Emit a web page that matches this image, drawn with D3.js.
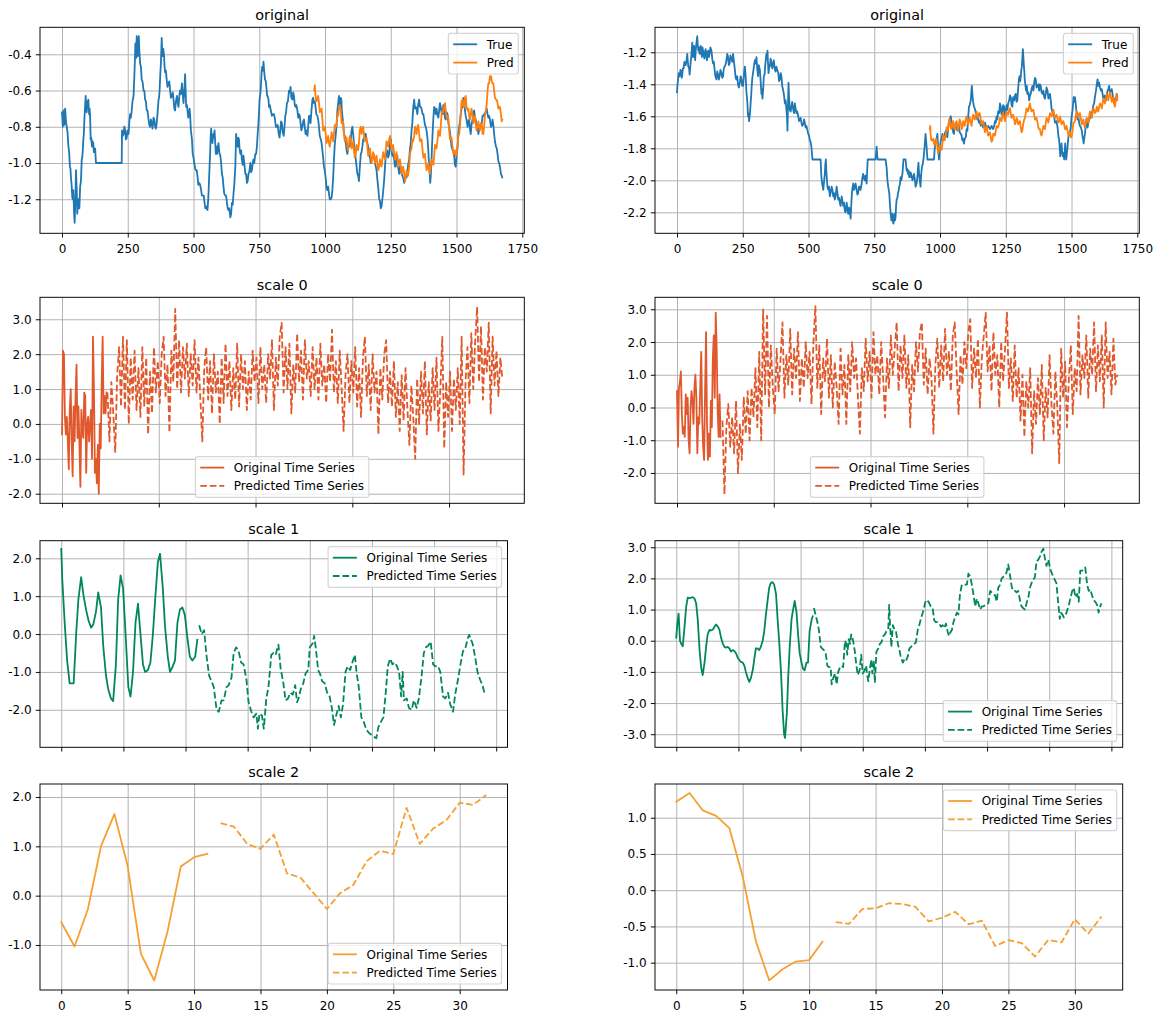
<!DOCTYPE html>
<html>
<head>
<meta charset="utf-8">
<script src="https://cdn.jsdelivr.net/npm/d3@7"></script>
<style>
  body { margin: 0; background: #fff; }
  svg text { font-family: "DejaVu Sans", "Liberation Sans", sans-serif; }
</style>
</head>
<body>
<svg id="fig" width="1158" height="1015"></svg>
<script>
// ---------------- data ----------------
// original series, left column: [sample index, value]
const origLeftTrue = [[0,-0.72],[3,-0.80],[6,-0.71],[9,-0.79],[12,-0.70],[15,-0.77],[18,-0.80],[21,-0.83],[24,-0.90],[27,-0.94],[30,-1.02],[32,-1.03],[34,-1.08],[37,-1.13],[39,-1.19],[41,-1.20],[43,-1.15],[46,-1.28],[48,-1.33],[51,-1.20],[53,-1.04],[56,-1.15],[58,-1.28],[61,-1.22],[63,-1.20],[66,-1.25],[69,-1.13],[72,-1.10],[75,-0.98],[77,-0.97],[79,-0.93],[81,-0.87],[83,-0.84],[85,-0.76],[88,-0.68],[90,-0.63],[92,-0.70],[94,-0.72],[96,-0.66],[98,-0.70],[100,-0.65],[103,-0.73],[105,-0.70],[107,-0.75],[109,-0.87],[111,-0.86],[114,-0.91],[116,-0.88],[119,-0.89],[121,-0.94],[123,-0.93],[126,-0.92],[129,-1.00],[227,-1.00],[228,-0.82],[231,-0.85],[234,-0.84],[237,-0.80],[240,-0.82],[243,-0.87],[246,-0.86],[249,-0.82],[253,-0.84],[256,-0.77],[259,-0.73],[262,-0.75],[265,-0.71],[268,-0.66],[272,-0.63],[275,-0.52],[277,-0.44],[279,-0.34],[282,-0.42],[284,-0.30],[286,-0.37],[288,-0.41],[290,-0.33],[292,-0.30],[294,-0.38],[297,-0.45],[300,-0.47],[303,-0.54],[306,-0.55],[310,-0.60],[313,-0.60],[316,-0.65],[319,-0.66],[322,-0.71],[325,-0.71],[329,-0.76],[332,-0.79],[335,-0.80],[338,-0.76],[341,-0.78],[344,-0.81],[348,-0.75],[351,-0.76],[354,-0.80],[357,-0.81],[360,-0.78],[363,-0.73],[367,-0.65],[369,-0.64],[371,-0.60],[374,-0.50],[376,-0.45],[379,-0.31],[381,-0.38],[383,-0.41],[385,-0.37],[388,-0.41],[390,-0.47],[392,-0.50],[395,-0.49],[398,-0.54],[401,-0.58],[405,-0.56],[408,-0.55],[411,-0.60],[414,-0.64],[418,-0.63],[421,-0.61],[424,-0.65],[427,-0.70],[430,-0.71],[433,-0.66],[437,-0.63],[440,-0.67],[443,-0.69],[446,-0.63],[449,-0.60],[452,-0.62],[456,-0.56],[459,-0.62],[462,-0.67],[465,-0.60],[468,-0.51],[470,-0.60],[472,-0.69],[475,-0.68],[477,-0.71],[480,-0.75],[483,-0.74],[485,-0.70],[487,-0.73],[490,-0.82],[494,-0.87],[497,-0.95],[500,-0.97],[503,-1.00],[506,-1.03],[509,-1.04],[512,-1.04],[515,-1.07],[518,-1.12],[522,-1.11],[525,-1.12],[529,-1.15],[532,-1.18],[536,-1.18],[539,-1.18],[542,-1.22],[545,-1.25],[548,-1.25],[550,-1.24],[553,-1.26],[556,-1.20],[558,-1.13],[561,-1.02],[563,-0.95],[565,-0.86],[567,-0.81],[570,-0.87],[572,-0.89],[574,-0.85],[576,-0.84],[578,-0.86],[580,-0.82],[583,-0.90],[585,-0.95],[588,-0.91],[590,-0.95],[592,-0.92],[595,-0.89],[598,-0.94],[602,-0.96],[605,-1.00],[608,-1.06],[611,-1.08],[614,-1.13],[617,-1.17],[621,-1.18],[624,-1.18],[627,-1.22],[630,-1.25],[633,-1.26],[636,-1.25],[640,-1.30],[643,-1.28],[646,-1.22],[649,-1.23],[652,-1.17],[655,-1.12],[659,-1.02],[662,-0.84],[665,-0.90],[668,-0.91],[670,-0.86],[673,-0.87],[675,-0.92],[678,-0.95],[681,-0.93],[684,-0.98],[687,-1.01],[690,-0.96],[693,-1.00],[697,-1.06],[700,-1.06],[703,-1.11],[706,-1.10],[709,-1.06],[712,-1.05],[716,-1.00],[719,-1.05],[722,-1.04],[725,-1.00],[728,-0.98],[731,-1.00],[735,-0.95],[738,-0.95],[741,-0.91],[743,-0.86],[746,-0.80],[749,-0.72],[751,-0.65],[754,-0.62],[756,-0.58],[759,-0.50],[761,-0.47],[764,-0.49],[766,-0.44],[769,-0.50],[772,-0.54],[775,-0.55],[777,-0.58],[780,-0.63],[782,-0.63],[785,-0.65],[787,-0.69],[790,-0.68],[794,-0.71],[798,-0.74],[802,-0.73],[806,-0.73],[810,-0.76],[813,-0.80],[817,-0.80],[820,-0.79],[824,-0.84],[827,-0.86],[830,-0.82],[833,-0.77],[836,-0.78],[839,-0.83],[843,-0.85],[846,-0.80],[849,-0.74],[852,-0.72],[855,-0.67],[859,-0.66],[863,-0.60],[866,-0.61],[869,-0.58],[872,-0.64],[876,-0.65],[879,-0.61],[882,-0.63],[885,-0.68],[888,-0.69],[891,-0.68],[895,-0.71],[898,-0.75],[901,-0.73],[904,-0.74],[907,-0.78],[910,-0.82],[914,-0.80],[917,-0.77],[920,-0.76],[923,-0.80],[926,-0.84],[929,-0.82],[933,-0.85],[936,-0.80],[939,-0.74],[942,-0.74],[945,-0.78],[948,-0.72],[952,-0.65],[955,-0.64],[958,-0.67],[961,-0.66],[964,-0.69],[967,-0.73],[971,-0.74],[974,-0.76],[977,-0.80],[980,-0.85],[984,-0.87],[987,-0.89],[990,-0.93],[993,-0.97],[996,-1.02],[999,-1.04],[1003,-1.09],[1006,-1.14],[1009,-1.15],[1012,-1.13],[1015,-1.17],[1018,-1.20],[1022,-1.20],[1025,-1.19],[1028,-1.15],[1031,-1.08],[1034,-0.98],[1037,-0.90],[1041,-0.84],[1044,-0.79],[1047,-0.71],[1050,-0.67],[1053,-0.63],[1055,-0.67],[1057,-0.69],[1060,-0.64],[1062,-0.65],[1064,-0.71],[1066,-0.74],[1069,-0.78],[1072,-0.84],[1075,-0.85],[1079,-0.89],[1082,-0.93],[1085,-0.95],[1088,-0.91],[1091,-0.91],[1094,-0.91],[1098,-0.87],[1101,-0.82],[1104,-0.80],[1107,-0.84],[1110,-0.89],[1113,-0.92],[1117,-0.98],[1120,-1.02],[1123,-1.06],[1126,-1.07],[1129,-1.10],[1132,-1.03],[1136,-0.95],[1139,-0.94],[1142,-0.91],[1145,-0.87],[1148,-0.87],[1151,-0.84],[1155,-0.84],[1158,-0.88],[1161,-0.89],[1164,-0.91],[1168,-0.96],[1171,-0.97],[1174,-1.00],[1177,-0.97],[1180,-0.98],[1183,-0.95],[1187,-0.96],[1190,-1.00],[1193,-1.02],[1196,-1.04],[1199,-1.09],[1202,-1.13],[1206,-1.20],[1209,-1.21],[1212,-1.25],[1215,-1.24],[1218,-1.20],[1221,-1.16],[1225,-1.09],[1228,-1.02],[1231,-0.96],[1234,-0.96],[1237,-0.93],[1240,-0.97],[1244,-0.95],[1247,-0.89],[1250,-0.87],[1253,-0.93],[1256,-0.96],[1259,-0.95],[1263,-0.98],[1266,-1.02],[1269,-1.02],[1272,-0.97],[1275,-0.96],[1278,-1.02],[1282,-1.06],[1285,-1.02],[1288,-1.02],[1291,-1.06],[1294,-1.07],[1297,-1.08],[1301,-1.11],[1304,-1.08],[1307,-1.07],[1310,-1.08],[1313,-1.06],[1316,-1.01],[1320,-0.98],[1323,-0.92],[1326,-0.89],[1329,-0.82],[1332,-0.78],[1335,-0.70],[1339,-0.65],[1342,-0.70],[1345,-0.69],[1348,-0.70],[1351,-0.73],[1354,-0.68],[1358,-0.65],[1361,-0.69],[1364,-0.69],[1367,-0.70],[1371,-0.73],[1374,-0.73],[1377,-0.76],[1380,-0.79],[1383,-0.80],[1386,-0.82],[1390,-0.87],[1393,-0.94],[1396,-1.02],[1398,-1.06],[1400,-1.11],[1403,-1.05],[1405,-0.98],[1407,-0.90],[1409,-0.84],[1412,-0.75],[1415,-0.69],[1418,-0.70],[1421,-0.73],[1424,-0.70],[1428,-0.74],[1431,-0.75],[1434,-0.71],[1437,-0.67],[1440,-0.69],[1443,-0.72],[1447,-0.73],[1450,-0.68],[1453,-0.71],[1456,-0.75],[1459,-0.76],[1462,-0.72],[1466,-0.73],[1469,-0.78],[1472,-0.80],[1475,-0.83],[1478,-0.87],[1481,-0.91],[1485,-0.93],[1488,-0.93],[1491,-0.96],[1494,-1.01],[1497,-1.02],[1500,-0.97],[1504,-0.91],[1507,-0.84],[1510,-0.80],[1513,-0.77],[1516,-0.73],[1519,-0.70],[1523,-0.69],[1526,-0.64],[1529,-0.65],[1532,-0.71],[1535,-0.74],[1538,-0.76],[1542,-0.80],[1545,-0.77],[1548,-0.76],[1551,-0.81],[1554,-0.84],[1557,-0.79],[1561,-0.76],[1564,-0.72],[1567,-0.71],[1570,-0.75],[1573,-0.76],[1576,-0.79],[1580,-0.80],[1583,-0.84],[1586,-0.82],[1589,-0.80],[1593,-0.78],[1596,-0.78],[1599,-0.74],[1602,-0.74],[1605,-0.73],[1608,-0.73],[1612,-0.71],[1615,-0.70],[1618,-0.73],[1621,-0.75],[1624,-0.74],[1627,-0.76],[1631,-0.80],[1634,-0.79],[1637,-0.76],[1640,-0.79],[1643,-0.84],[1646,-0.88],[1650,-0.91],[1653,-0.92],[1656,-0.95],[1659,-0.99],[1662,-1.00],[1665,-1.02],[1669,-1.06],[1672,-1.07],[1674,-1.08]];
const origLeftPred = [[959,-0.60],[961,-0.57],[964,-0.63],[967,-0.66],[971,-0.65],[974,-0.63],[977,-0.67],[980,-0.72],[984,-0.71],[987,-0.70],[990,-0.76],[993,-0.82],[996,-0.82],[1000,-0.80],[1003,-0.85],[1006,-0.89],[1009,-0.87],[1012,-0.85],[1015,-0.89],[1018,-0.91],[1022,-0.87],[1025,-0.83],[1028,-0.85],[1031,-0.88],[1034,-0.84],[1037,-0.79],[1041,-0.80],[1044,-0.79],[1047,-0.73],[1050,-0.74],[1053,-0.69],[1056,-0.68],[1060,-0.71],[1063,-0.78],[1066,-0.78],[1069,-0.77],[1072,-0.84],[1075,-0.88],[1079,-0.87],[1082,-0.86],[1085,-0.91],[1088,-0.93],[1091,-0.89],[1094,-0.85],[1098,-0.87],[1101,-0.92],[1104,-0.91],[1107,-0.88],[1110,-0.93],[1113,-0.97],[1117,-0.95],[1120,-0.90],[1123,-0.91],[1126,-0.93],[1129,-0.89],[1132,-0.82],[1136,-0.80],[1139,-0.84],[1142,-0.82],[1145,-0.80],[1148,-0.84],[1151,-0.88],[1155,-0.87],[1158,-0.86],[1161,-0.91],[1164,-0.96],[1168,-0.95],[1171,-0.92],[1174,-0.96],[1177,-1.00],[1180,-0.98],[1183,-0.94],[1187,-0.96],[1190,-1.00],[1193,-0.98],[1196,-0.96],[1199,-1.00],[1202,-1.04],[1206,-1.02],[1209,-0.98],[1212,-1.00],[1215,-1.02],[1218,-0.98],[1221,-0.94],[1225,-0.96],[1228,-0.98],[1231,-0.93],[1234,-0.88],[1237,-0.89],[1240,-0.91],[1244,-0.87],[1247,-0.85],[1250,-0.89],[1253,-0.93],[1256,-0.91],[1259,-0.90],[1263,-0.95],[1266,-0.98],[1269,-0.96],[1272,-0.94],[1275,-0.98],[1278,-1.02],[1282,-1.00],[1285,-0.98],[1288,-1.02],[1291,-1.06],[1294,-1.04],[1297,-1.02],[1301,-1.06],[1304,-1.10],[1307,-1.08],[1310,-1.04],[1313,-1.06],[1316,-1.07],[1320,-1.02],[1323,-0.95],[1326,-0.93],[1329,-0.92],[1332,-0.87],[1335,-0.88],[1339,-0.85],[1342,-0.80],[1345,-0.82],[1348,-0.84],[1351,-0.80],[1354,-0.79],[1358,-0.84],[1361,-0.88],[1364,-0.87],[1367,-0.87],[1371,-0.93],[1374,-0.97],[1377,-0.96],[1380,-0.95],[1383,-1.00],[1386,-1.04],[1390,-1.02],[1393,-1.00],[1396,-1.04],[1399,-1.06],[1402,-1.02],[1405,-0.98],[1409,-1.00],[1412,-1.01],[1415,-0.96],[1418,-0.90],[1421,-0.91],[1424,-0.92],[1428,-0.87],[1431,-0.82],[1434,-0.84],[1437,-0.85],[1440,-0.80],[1443,-0.73],[1447,-0.71],[1450,-0.72],[1453,-0.69],[1456,-0.67],[1459,-0.71],[1462,-0.75],[1466,-0.74],[1469,-0.75],[1472,-0.82],[1475,-0.87],[1478,-0.87],[1481,-0.86],[1485,-0.91],[1488,-0.95],[1491,-0.95],[1494,-0.93],[1497,-0.96],[1500,-0.96],[1504,-0.91],[1507,-0.85],[1510,-0.84],[1513,-0.80],[1516,-0.73],[1519,-0.66],[1523,-0.65],[1526,-0.69],[1529,-0.69],[1532,-0.64],[1535,-0.63],[1538,-0.69],[1542,-0.71],[1545,-0.70],[1548,-0.74],[1551,-0.76],[1554,-0.73],[1557,-0.70],[1561,-0.74],[1564,-0.78],[1567,-0.76],[1570,-0.74],[1573,-0.78],[1576,-0.82],[1580,-0.80],[1583,-0.77],[1586,-0.80],[1589,-0.82],[1593,-0.78],[1596,-0.78],[1599,-0.84],[1602,-0.84],[1605,-0.80],[1608,-0.74],[1612,-0.71],[1615,-0.67],[1618,-0.60],[1621,-0.56],[1624,-0.56],[1627,-0.52],[1631,-0.52],[1634,-0.55],[1637,-0.56],[1640,-0.56],[1643,-0.60],[1646,-0.64],[1650,-0.65],[1653,-0.65],[1656,-0.67],[1659,-0.70],[1662,-0.69],[1665,-0.69],[1669,-0.73],[1672,-0.77],[1674,-0.76]];

// original series, right column
const origRightTrue = [[0,-1.45],[2,-1.40],[4,-1.37],[7,-1.33],[10,-1.35],[13,-1.31],[16,-1.32],[18,-1.36],[20,-1.34],[22,-1.30],[25,-1.30],[28,-1.26],[30,-1.28],[33,-1.28],[36,-1.25],[39,-1.21],[41,-1.26],[43,-1.29],[46,-1.30],[48,-1.34],[50,-1.30],[52,-1.26],[54,-1.23],[56,-1.19],[58,-1.14],[61,-1.23],[63,-1.20],[65,-1.16],[67,-1.21],[69,-1.25],[71,-1.19],[74,-1.14],[77,-1.10],[79,-1.16],[81,-1.19],[84,-1.17],[86,-1.21],[88,-1.18],[90,-1.16],[92,-1.20],[95,-1.23],[97,-1.17],[99,-1.19],[102,-1.22],[104,-1.24],[106,-1.20],[109,-1.18],[111,-1.22],[114,-1.25],[116,-1.20],[119,-1.19],[121,-1.23],[124,-1.21],[127,-1.17],[131,-1.19],[134,-1.24],[137,-1.27],[140,-1.26],[143,-1.31],[146,-1.35],[150,-1.37],[153,-1.32],[156,-1.34],[159,-1.37],[162,-1.35],[165,-1.31],[169,-1.33],[172,-1.36],[175,-1.35],[178,-1.30],[181,-1.29],[184,-1.28],[188,-1.25],[191,-1.21],[194,-1.23],[197,-1.28],[200,-1.27],[203,-1.22],[207,-1.24],[210,-1.26],[213,-1.21],[216,-1.25],[220,-1.31],[223,-1.36],[226,-1.37],[229,-1.35],[232,-1.40],[235,-1.42],[239,-1.39],[242,-1.35],[245,-1.37],[248,-1.41],[251,-1.41],[255,-1.33],[258,-1.29],[261,-1.35],[264,-1.45],[267,-1.50],[270,-1.60],[272,-1.58],[274,-1.63],[277,-1.59],[279,-1.54],[282,-1.47],[284,-1.41],[287,-1.35],[289,-1.33],[293,-1.28],[296,-1.25],[299,-1.27],[302,-1.23],[305,-1.30],[308,-1.35],[311,-1.28],[315,-1.31],[318,-1.38],[321,-1.46],[323,-1.43],[325,-1.49],[328,-1.42],[330,-1.35],[333,-1.34],[335,-1.29],[338,-1.24],[340,-1.21],[342,-1.24],[344,-1.19],[346,-1.27],[348,-1.33],[351,-1.28],[353,-1.29],[356,-1.24],[359,-1.26],[362,-1.30],[365,-1.28],[368,-1.25],[372,-1.31],[375,-1.32],[378,-1.29],[381,-1.31],[385,-1.33],[388,-1.38],[391,-1.37],[394,-1.33],[397,-1.35],[400,-1.41],[404,-1.44],[407,-1.47],[410,-1.52],[413,-1.50],[416,-1.56],[418,-1.60],[420,-1.69],[422,-1.52],[424,-1.39],[426,-1.48],[429,-1.56],[432,-1.57],[435,-1.54],[438,-1.51],[442,-1.56],[445,-1.58],[448,-1.52],[451,-1.55],[454,-1.58],[457,-1.57],[461,-1.60],[464,-1.63],[467,-1.62],[470,-1.61],[473,-1.64],[476,-1.66],[480,-1.65],[483,-1.62],[486,-1.64],[489,-1.67],[492,-1.66],[495,-1.68],[499,-1.71],[502,-1.72],[505,-1.75],[508,-1.76],[511,-1.79],[513,-1.83],[515,-1.87],[546,-1.87],[549,-1.98],[552,-2.02],[556,-2.06],[559,-2.01],[562,-1.96],[564,-1.90],[566,-1.87],[568,-1.95],[571,-2.02],[573,-2.05],[576,-2.06],[578,-2.04],[581,-2.10],[584,-2.08],[588,-2.04],[591,-2.06],[594,-2.10],[597,-2.08],[600,-2.12],[603,-2.10],[607,-2.04],[610,-2.08],[613,-2.12],[616,-2.11],[619,-2.14],[622,-2.16],[626,-2.10],[629,-2.13],[632,-2.16],[635,-2.14],[638,-2.19],[641,-2.20],[645,-2.14],[648,-2.18],[651,-2.21],[654,-2.17],[657,-2.19],[660,-2.24],[662,-2.17],[665,-2.08],[667,-2.05],[670,-2.02],[673,-2.06],[676,-2.04],[679,-2.02],[683,-2.06],[686,-2.09],[689,-2.08],[692,-2.04],[695,-2.04],[698,-2.06],[702,-2.02],[705,-1.98],[708,-1.96],[711,-1.99],[714,-2.00],[717,-1.97],[721,-2.02],[723,-1.94],[725,-1.87],[755,-1.87],[757,-1.83],[759,-1.79],[761,-1.84],[763,-1.87],[793,-1.87],[797,-1.92],[800,-2.00],[803,-2.04],[807,-2.08],[810,-2.16],[812,-2.20],[815,-2.25],[817,-2.22],[819,-2.21],[821,-2.26],[823,-2.27],[825,-2.24],[827,-2.21],[829,-2.25],[831,-2.23],[833,-2.16],[835,-2.12],[838,-2.11],[840,-2.08],[842,-2.07],[845,-2.04],[848,-2.02],[850,-1.98],[853,-2.00],[857,-1.96],[859,-1.92],[861,-1.87],[869,-1.87],[873,-1.94],[876,-1.93],[878,-1.96],[881,-1.94],[883,-1.98],[886,-1.98],[888,-1.95],[892,-1.97],[895,-2.00],[898,-1.99],[901,-1.96],[904,-1.99],[907,-2.04],[911,-2.02],[914,-1.98],[916,-1.93],[918,-1.89],[920,-1.95],[923,-2.00],[926,-2.04],[928,-1.97],[931,-1.92],[934,-1.90],[937,-1.87],[941,-1.80],[945,-1.71],[947,-1.75],[949,-1.79],[952,-1.87],[977,-1.87],[980,-1.80],[983,-1.75],[987,-1.74],[990,-1.71],[993,-1.80],[996,-1.87],[999,-1.80],[1003,-1.75],[1006,-1.74],[1009,-1.71],[1012,-1.74],[1015,-1.75],[1018,-1.71],[1022,-1.69],[1025,-1.72],[1028,-1.73],[1031,-1.67],[1034,-1.64],[1037,-1.62],[1041,-1.60],[1044,-1.64],[1047,-1.66],[1050,-1.70],[1053,-1.71],[1056,-1.66],[1060,-1.64],[1063,-1.67],[1066,-1.69],[1069,-1.65],[1072,-1.66],[1075,-1.70],[1079,-1.71],[1082,-1.72],[1085,-1.75],[1088,-1.74],[1091,-1.77],[1094,-1.74],[1098,-1.73],[1101,-1.68],[1104,-1.69],[1107,-1.61],[1110,-1.54],[1113,-1.53],[1117,-1.50],[1119,-1.45],[1121,-1.41],[1124,-1.48],[1126,-1.51],[1129,-1.54],[1132,-1.55],[1136,-1.58],[1139,-1.59],[1142,-1.62],[1145,-1.61],[1148,-1.64],[1151,-1.63],[1155,-1.66],[1158,-1.63],[1161,-1.64],[1164,-1.67],[1168,-1.66],[1171,-1.64],[1174,-1.66],[1177,-1.68],[1180,-1.67],[1183,-1.66],[1187,-1.67],[1190,-1.68],[1193,-1.67],[1196,-1.66],[1199,-1.67],[1202,-1.68],[1206,-1.66],[1209,-1.63],[1212,-1.64],[1215,-1.60],[1218,-1.62],[1221,-1.57],[1225,-1.58],[1228,-1.52],[1231,-1.54],[1234,-1.59],[1237,-1.58],[1240,-1.53],[1244,-1.54],[1247,-1.60],[1250,-1.58],[1253,-1.53],[1256,-1.56],[1259,-1.52],[1263,-1.50],[1266,-1.47],[1269,-1.48],[1272,-1.53],[1275,-1.54],[1278,-1.48],[1282,-1.50],[1285,-1.47],[1288,-1.46],[1291,-1.51],[1294,-1.50],[1296,-1.45],[1298,-1.41],[1300,-1.37],[1302,-1.35],[1305,-1.38],[1307,-1.35],[1309,-1.31],[1311,-1.29],[1313,-1.24],[1315,-1.18],[1317,-1.23],[1319,-1.29],[1321,-1.33],[1322,-1.37],[1325,-1.41],[1327,-1.44],[1330,-1.41],[1332,-1.46],[1336,-1.45],[1339,-1.50],[1342,-1.47],[1345,-1.46],[1348,-1.43],[1352,-1.41],[1355,-1.44],[1358,-1.39],[1361,-1.36],[1364,-1.37],[1367,-1.42],[1371,-1.41],[1374,-1.40],[1377,-1.44],[1380,-1.40],[1383,-1.41],[1386,-1.45],[1390,-1.46],[1393,-1.44],[1396,-1.48],[1399,-1.49],[1402,-1.46],[1405,-1.42],[1409,-1.44],[1412,-1.49],[1415,-1.48],[1418,-1.46],[1421,-1.50],[1424,-1.55],[1428,-1.58],[1431,-1.57],[1434,-1.60],[1437,-1.64],[1440,-1.64],[1443,-1.63],[1447,-1.67],[1450,-1.72],[1453,-1.75],[1455,-1.79],[1457,-1.85],[1460,-1.80],[1462,-1.77],[1464,-1.82],[1467,-1.85],[1469,-1.83],[1472,-1.87],[1474,-1.82],[1476,-1.77],[1478,-1.83],[1480,-1.87],[1483,-1.82],[1485,-1.79],[1488,-1.73],[1491,-1.71],[1494,-1.70],[1497,-1.67],[1500,-1.61],[1504,-1.56],[1506,-1.52],[1508,-1.48],[1511,-1.51],[1513,-1.48],[1516,-1.52],[1518,-1.56],[1521,-1.60],[1523,-1.62],[1526,-1.60],[1529,-1.64],[1532,-1.66],[1536,-1.67],[1539,-1.69],[1542,-1.73],[1544,-1.74],[1546,-1.77],[1549,-1.73],[1551,-1.71],[1554,-1.66],[1556,-1.62],[1559,-1.65],[1561,-1.67],[1564,-1.64],[1567,-1.62],[1570,-1.61],[1574,-1.58],[1577,-1.60],[1580,-1.56],[1583,-1.53],[1586,-1.52],[1589,-1.48],[1593,-1.44],[1596,-1.40],[1599,-1.37],[1602,-1.41],[1605,-1.39],[1608,-1.42],[1612,-1.44],[1615,-1.43],[1618,-1.46],[1621,-1.49],[1624,-1.48],[1627,-1.47],[1631,-1.50],[1634,-1.47],[1637,-1.44],[1640,-1.43],[1643,-1.41],[1646,-1.45],[1650,-1.44],[1653,-1.43],[1656,-1.46],[1659,-1.50],[1662,-1.52],[1665,-1.49],[1669,-1.50],[1672,-1.46],[1674,-1.48]];
const origRightPred = [[961,-1.68],[963,-1.66],[964,-1.71],[967,-1.75],[971,-1.75],[974,-1.74],[977,-1.77],[980,-1.78],[983,-1.75],[986,-1.74],[990,-1.79],[993,-1.83],[996,-1.81],[999,-1.78],[1003,-1.79],[1006,-1.81],[1009,-1.77],[1012,-1.72],[1015,-1.73],[1018,-1.75],[1022,-1.71],[1025,-1.67],[1028,-1.69],[1031,-1.68],[1034,-1.62],[1037,-1.62],[1041,-1.67],[1044,-1.68],[1047,-1.64],[1050,-1.63],[1053,-1.67],[1056,-1.68],[1060,-1.64],[1063,-1.63],[1066,-1.67],[1069,-1.69],[1072,-1.65],[1075,-1.62],[1079,-1.64],[1082,-1.68],[1085,-1.67],[1088,-1.63],[1091,-1.64],[1094,-1.66],[1098,-1.62],[1101,-1.60],[1104,-1.63],[1107,-1.65],[1110,-1.62],[1113,-1.61],[1117,-1.64],[1120,-1.66],[1123,-1.62],[1126,-1.59],[1129,-1.60],[1132,-1.62],[1136,-1.59],[1139,-1.57],[1142,-1.60],[1145,-1.61],[1148,-1.58],[1151,-1.58],[1155,-1.62],[1158,-1.65],[1161,-1.64],[1164,-1.63],[1168,-1.67],[1171,-1.70],[1174,-1.68],[1177,-1.66],[1180,-1.69],[1183,-1.72],[1187,-1.71],[1190,-1.70],[1193,-1.73],[1196,-1.76],[1199,-1.75],[1202,-1.71],[1206,-1.71],[1209,-1.72],[1212,-1.69],[1215,-1.66],[1218,-1.67],[1221,-1.67],[1225,-1.64],[1228,-1.61],[1231,-1.62],[1234,-1.63],[1237,-1.60],[1240,-1.58],[1244,-1.61],[1247,-1.63],[1250,-1.60],[1253,-1.57],[1256,-1.59],[1259,-1.59],[1263,-1.56],[1266,-1.55],[1269,-1.58],[1272,-1.61],[1275,-1.60],[1278,-1.59],[1282,-1.62],[1285,-1.65],[1288,-1.64],[1291,-1.61],[1294,-1.62],[1297,-1.65],[1301,-1.64],[1304,-1.63],[1307,-1.67],[1310,-1.70],[1313,-1.69],[1316,-1.65],[1320,-1.62],[1323,-1.61],[1326,-1.58],[1329,-1.55],[1332,-1.56],[1335,-1.57],[1339,-1.54],[1342,-1.52],[1345,-1.55],[1348,-1.57],[1352,-1.56],[1355,-1.56],[1358,-1.59],[1361,-1.62],[1364,-1.62],[1367,-1.61],[1371,-1.64],[1374,-1.67],[1377,-1.68],[1380,-1.68],[1383,-1.71],[1386,-1.72],[1390,-1.69],[1393,-1.66],[1396,-1.67],[1399,-1.68],[1402,-1.64],[1405,-1.61],[1409,-1.62],[1412,-1.64],[1415,-1.61],[1418,-1.58],[1421,-1.59],[1424,-1.60],[1428,-1.58],[1431,-1.56],[1434,-1.59],[1437,-1.61],[1440,-1.60],[1443,-1.59],[1447,-1.62],[1450,-1.64],[1453,-1.63],[1456,-1.60],[1459,-1.62],[1462,-1.65],[1466,-1.64],[1469,-1.63],[1472,-1.65],[1475,-1.68],[1478,-1.68],[1481,-1.66],[1485,-1.69],[1488,-1.72],[1491,-1.71],[1494,-1.70],[1497,-1.73],[1500,-1.73],[1504,-1.69],[1507,-1.64],[1510,-1.64],[1513,-1.63],[1516,-1.60],[1519,-1.57],[1523,-1.58],[1526,-1.61],[1529,-1.59],[1532,-1.58],[1536,-1.62],[1539,-1.65],[1542,-1.64],[1545,-1.62],[1548,-1.65],[1551,-1.67],[1555,-1.64],[1558,-1.61],[1561,-1.62],[1564,-1.64],[1567,-1.60],[1570,-1.57],[1574,-1.59],[1577,-1.61],[1580,-1.58],[1583,-1.55],[1586,-1.56],[1589,-1.58],[1593,-1.57],[1596,-1.54],[1599,-1.56],[1602,-1.57],[1605,-1.54],[1608,-1.52],[1612,-1.53],[1615,-1.55],[1618,-1.52],[1621,-1.49],[1624,-1.50],[1627,-1.52],[1631,-1.49],[1634,-1.46],[1637,-1.48],[1640,-1.50],[1643,-1.47],[1646,-1.45],[1650,-1.48],[1653,-1.51],[1656,-1.50],[1659,-1.48],[1662,-1.52],[1665,-1.54],[1669,-1.49],[1672,-1.46],[1674,-1.50]];

// scale 0: original part (one value per index), predicted part (every other index up to 455)
const s0LeftOrig = [-0.3,2.1,2.0,0.2,-0.3,0.2,-0.5,-1.3,0.4,1.0,-0.5,-1.5,0.5,-0.5,0.8,1.7,-0.4,0.5,-0.6,-1.8,0.4,-0.2,-0.4,0.9,0.8,-1.4,0.0,0.2,-0.5,0.0,0.4,-1.0,2.5,1.0,-1.4,-1.0,-1.7,-0.6,-2.0,0.0,-0.7,1.2,2.5,0.3,0.8,0.3,0.9];
const s0LeftPred = [0.9,-0.5,1.2,0.3,-0.8,1.4,2.2,0.5,2.5,0.4,2.4,0.0,1.9,0.7,2.1,0.4,1.6,0.2,2.2,0.5,1.9,-0.3,1.5,0.3,2.2,0.9,1.8,0.6,2.0,2.5,0.8,1.7,-0.25,2.1,1.2,3.3,1.0,2.4,0.9,2.2,1.3,2.3,0.8,2.0,1.1,2.4,0.9,1.9,0.7,-0.5,1.6,2.2,0.7,1.8,0.3,2.0,0.9,1.5,0.0,1.9,0.6,2.3,0.8,1.8,0.4,1.6,0.7,2.3,0.5,2.0,1.0,1.8,0.4,1.5,0.7,2.1,1.2,1.9,0.6,2.2,1.0,1.7,0.6,2.0,1.3,2.4,0.4,1.9,1.1,2.5,2.9,0.9,2.2,1.0,2.3,0.3,1.7,0.9,2.6,1.2,2.1,0.7,2.4,1.3,1.8,0.8,2.2,1.0,1.9,0.7,2.3,1.1,1.7,0.6,2.0,1.2,2.7,0.9,1.8,0.6,2.1,1.0,-0.2,1.4,2.0,0.6,1.8,0.9,2.2,0.5,1.6,0.2,1.9,2.5,0.8,1.7,0.4,2.0,0.9,1.5,-0.3,1.6,0.7,2.0,2.4,0.6,1.5,0.5,1.8,0.2,1.2,-0.2,1.4,0.1,1.6,0.4,-0.6,1.1,0.2,-1.0,1.3,0.0,1.5,0.3,1.8,-0.3,1.2,0.1,1.6,0.4,1.9,-0.2,1.0,2.5,-0.7,1.2,0.2,1.5,-0.2,1.3,0.4,1.6,0.0,2.5,-1.45,1.2,2.2,0.6,2.6,1.0,2.4,3.35,1.2,2.8,0.7,2.2,1.5,2.9,0.3,2.5,1.1,2.1,0.8,1.9,1.3];
const s0RightOrig = [0.5,-1.2,0.6,0.8,1.1,-0.2,-0.8,-0.6,-0.9,0.4,-0.2,0.3,-1.0,-1.4,0.0,0.5,0.2,-0.5,0.6,1.0,0.3,-1.4,-0.3,-0.5,0.6,1.7,-0.3,-1.2,-1.6,0.5,2.3,-0.5,-1.6,-0.8,-1.5,0.2,-0.6,1.5,2.2,0.3,2.9,1.8,-0.1,-0.9,0.4,-0.9];
const s0RightPred = [-0.4,-2.65,-0.6,0.1,-1.2,-0.3,-1.4,0.2,-2.0,-0.5,-1.6,0.3,-0.8,0.5,-1.0,0.6,-0.3,1.2,-0.6,1.7,-1.0,3.0,0.4,2.8,0.0,1.9,0.6,-0.2,1.8,0.5,1.5,2.6,0.3,1.6,0.7,2.4,0.4,1.8,0.9,2.3,0.2,1.5,0.6,2.0,0.9,1.7,0.1,2.0,3.1,0.6,1.9,-0.2,1.5,0.8,2.1,0.3,1.6,0.0,1.4,0.6,-0.5,1.8,0.4,1.3,-0.5,1.6,0.5,2.0,0.9,1.5,0.3,-0.8,1.2,0.5,2.1,0.8,1.7,0.3,2.3,1.0,1.6,0.4,2.0,0.9,-0.3,1.5,0.6,2.2,1.0,1.8,2.6,0.5,1.9,0.9,2.2,0.6,1.6,-0.6,1.3,0.5,2.0,1.1,2.3,2.6,0.7,1.8,0.4,1.5,0.9,-0.8,1.3,2.1,0.6,1.9,0.8,2.4,1.0,1.7,0.5,2.2,2.6,1.1,-0.2,1.6,0.7,2.0,1.2,2.3,2.7,0.6,1.8,0.9,2.1,0.0,1.5,2.2,2.9,1.1,1.9,0.5,2.3,1.0,1.6,0.0,2.0,0.8,1.8,2.9,0.6,1.5,0.2,1.9,0.3,1.2,-0.4,1.0,-0.9,0.8,0.0,1.2,-1.4,0.5,-0.5,0.9,-0.2,1.3,-1.0,0.6,-0.3,1.6,0.1,-0.8,1.1,0.0,-1.7,1.8,0.3,1.4,-0.6,0.9,1.9,-0.2,1.2,0.5,2.8,0.4,1.6,0.9,2.2,0.3,1.8,1.0,2.6,0.5,1.9,0.8,2.2,0.0,2.6,0.9,1.7,0.4,2.1,0.7,1.0];
const s0LastIndex = 455;

// scale 1: [position, value]
const s1LeftOrig = [[0,2.25],[0.3,1.5],[1.1,0.3],[1.9,-0.7],[2.7,-1.3],[4.0,-1.3],[4.8,0.0],[5.5,0.9],[6.4,1.5],[7.2,1.0],[8.1,0.6],[8.8,0.35],[9.6,0.17],[10.3,0.25],[11.2,0.6],[11.9,1.1],[12.8,0.7],[13.5,-0.3],[14.4,-1.1],[15.1,-1.45],[16.0,-1.7],[16.7,-1.77],[17.6,-0.8],[18.3,0.9],[19.1,1.55],[19.9,1.2],[20.7,0.0],[21.6,-1.4],[22.3,-1.65],[23.1,-1.0],[23.9,0.3],[24.7,0.8],[25.5,0.0],[26.3,-0.8],[27.0,-1.0],[27.9,-0.95],[28.7,-0.75],[29.5,0.0],[30.3,1.0],[31.1,1.9],[31.8,2.12],[32.7,1.2],[33.4,0.2],[34.3,-0.6],[35.0,-1.0],[35.9,-0.85],[36.6,-0.7],[37.4,0.3],[38.2,0.65],[39.0,0.7],[39.8,0.5],[40.6,-0.1],[41.4,-0.6],[42.2,-0.7],[43.1,-0.6],[43.8,-0.15]];
const s1LeftPred = [[44.4,0.23],[45.2,0.0],[46.0,0.1],[46.8,-0.6],[47.6,-1.1],[48.4,-1.25],[49.1,-1.4],[50.0,-2.0],[50.7,-2.05],[51.6,-1.75],[52.3,-1.75],[53.2,-1.4],[53.9,-1.35],[54.8,-1.15],[55.5,-0.5],[56.3,-0.35],[57.1,-0.45],[57.9,-0.75],[58.7,-0.8],[59.6,-1.2],[60.3,-1.8],[61.2,-2.05],[61.9,-2.2],[62.8,-2.1],[63.3,-2.5],[63.8,-2.1],[64.6,-2.15],[65.2,-2.5],[66.0,-1.7],[66.7,-1.4],[67.6,-0.55],[68.3,-0.5],[69.0,-0.55],[69.9,-0.28],[70.6,-0.9],[71.5,-1.3],[72.2,-1.75],[73.0,-1.7],[73.7,-1.55],[74.5,-1.6],[75.3,-1.35],[75.9,-1.8],[76.4,-1.7],[77.1,-1.45],[77.9,-1.3],[78.6,-1.05],[79.5,-0.95],[80.0,-0.35],[80.9,-0.25],[81.4,-0.05],[81.9,-0.35],[82.7,-0.95],[83.3,-1.05],[84.0,-1.25],[84.8,-1.3],[85.6,-1.55],[86.4,-1.65],[87.1,-1.95],[87.8,-2.4],[88.5,-2.15],[89.3,-1.9],[90.0,-2.2],[90.7,-1.85],[91.5,-1.0],[92.2,-0.85],[93.0,-0.95],[93.7,-0.75],[94.5,-0.55],[95.1,-1.05],[95.7,-1.35],[96.6,-2.2],[97.3,-2.3],[98.1,-2.5],[98.9,-2.6],[99.7,-2.65],[100.5,-2.7],[101.4,-2.75],[102.1,-2.45],[103.0,-2.3],[103.7,-2.2],[104.5,-1.5],[105.1,-0.85],[105.9,-0.65],[106.6,-0.8],[107.3,-0.75],[108.1,-0.85],[108.8,-1.05],[109.4,-1.65],[109.9,-1.0],[110.3,-1.75],[111.2,-1.7],[111.9,-1.95],[112.8,-2.0],[113.5,-1.75],[114.4,-1.95],[115.1,-1.7],[116.0,-1.1],[116.7,-0.5],[117.4,-0.35],[118.2,-0.3],[118.9,-0.2],[119.7,-0.8],[120.4,-0.85],[121.3,-0.85],[122.0,-1.0],[122.9,-1.65],[123.6,-1.7],[124.5,-1.55],[125.2,-1.85],[126.1,-2.05],[126.8,-1.6],[127.7,-1.2],[128.4,-0.85],[129.3,-0.45],[130.0,-0.4],[130.9,-0.1],[131.3,-0.02],[131.9,-0.15],[132.4,-0.25],[133.2,-0.6],[134.0,-1.0],[134.8,-1.2],[135.6,-1.35],[136.2,-1.55]];
const s1RightOrig = [[0,0.1],[0.3,0.5],[0.75,0.87],[1.2,0.0],[1.6,-0.1],[2.1,-0.18],[2.7,0.5],[3.2,1.1],[3.7,1.38],[4.3,1.37],[4.8,1.38],[5.3,1.4],[5.9,1.35],[6.4,1.2],[6.9,0.7],[7.5,-0.3],[8.0,-0.85],[8.5,-1.1],[9.1,-0.7],[9.6,-0.2],[10.1,0.2],[10.7,0.35],[11.2,0.33],[11.8,0.36],[12.3,0.45],[12.8,0.52],[13.4,0.45],[13.9,0.35],[14.4,0.1],[15.0,-0.1],[15.5,-0.2],[16.0,-0.22],[16.6,-0.2],[17.1,-0.25],[17.6,-0.35],[18.2,-0.3],[18.7,-0.33],[19.2,-0.4],[19.8,-0.55],[20.3,-0.62],[20.8,-0.68],[21.4,-0.7],[21.9,-0.8],[22.4,-1.0],[23.0,-1.2],[23.5,-1.32],[24.0,-1.2],[24.6,-0.95],[25.1,-0.6],[25.6,-0.25],[26.2,-0.25],[26.7,-0.3],[27.2,-0.2],[27.8,0.0],[28.3,0.3],[28.8,0.8],[29.4,1.3],[29.9,1.7],[30.4,1.85],[31.0,1.88],[31.5,1.8],[32.1,1.5],[32.6,0.7],[33.1,0.0],[33.7,-1.0],[34.2,-2.2],[34.7,-3.0],[35.0,-3.12],[35.6,-2.3],[36.0,-1.2],[36.5,-0.2],[37.1,0.7],[37.6,1.0],[38.1,1.28],[38.7,0.9],[39.2,0.2],[39.7,-0.4],[40.3,-0.7],[40.8,-0.9],[41.3,-0.95],[41.9,-0.7],[42.4,-0.7],[42.9,0.3],[43.5,0.65],[43.9,0.78]];
const s1RightPred = [[44.3,1.05],[44.9,0.8],[45.4,0.6],[45.9,0.35],[46.5,-0.2],[47.0,-0.25],[47.5,-0.3],[48.1,-0.4],[48.6,-0.8],[49.1,-0.85],[49.7,-0.85],[50.0,-1.4],[50.5,-1.2],[51.1,-1.05],[51.6,-1.4],[52.1,-1.0],[52.7,-0.85],[53.2,-0.8],[53.7,-0.85],[54.3,0.0],[54.7,-0.1],[55.0,-0.45],[55.5,0.05],[55.9,-0.1],[56.3,0.2],[56.8,0.05],[57.4,-0.3],[57.9,-0.75],[58.4,-1.1],[59.0,-0.95],[59.5,-0.45],[60.0,-1.05],[60.6,-0.95],[61.1,-0.8],[61.4,-1.1],[61.8,-1.3],[62.3,-0.9],[62.8,-0.6],[63.1,-1.05],[63.6,-0.65],[63.9,-1.35],[64.4,-0.35],[65.0,-0.25],[65.5,-0.1],[66.0,-0.05],[66.6,0.15],[67.1,0.2],[67.6,0.3],[68.2,0.35],[68.5,1.15],[68.8,0.5],[69.2,-0.2],[69.7,0.5],[70.2,0.35],[70.7,0.3],[71.3,-0.1],[71.8,-0.3],[72.3,-0.55],[72.9,-0.7],[73.4,-0.6],[73.9,-0.65],[74.5,-0.5],[75.0,-0.25],[75.5,-0.2],[76.1,-0.15],[76.6,-0.1],[77.1,-0.05],[77.7,0.35],[78.2,0.5],[78.7,0.7],[79.3,0.9],[79.8,1.1],[80.3,1.3],[80.9,1.28],[81.4,1.2],[81.9,1.1],[82.5,1.05],[83.0,0.65],[83.5,0.6],[84.1,0.6],[84.6,0.55],[85.2,0.45],[85.7,0.5],[86.2,0.4],[86.8,0.55],[87.3,0.3],[87.7,0.15],[88.1,0.25],[88.7,0.35],[89.2,0.6],[89.7,0.75],[90.3,0.9],[90.8,0.85],[91.3,1.5],[91.9,1.8],[92.4,1.8],[93.0,1.8],[93.5,1.8],[94.0,2.15],[94.6,2.05],[95.1,1.8],[95.6,1.5],[96.2,1.1],[96.7,1.35],[97.2,1.2],[97.8,1.0],[98.3,1.1],[98.8,1.1],[99.4,1.15],[99.9,1.2],[100.4,1.2],[101.0,1.6],[101.5,1.55],[102.0,1.5],[102.6,1.45],[103.1,1.25],[103.6,1.7],[104.2,1.8],[104.7,2.0],[105.2,2.05],[105.8,2.1],[106.3,2.2],[106.8,2.45],[107.4,2.1],[107.9,1.75],[108.4,1.6],[109.0,1.6],[109.5,1.55],[110.0,1.6],[110.6,1.3],[111.1,1.1],[111.6,1.05],[112.2,1.0],[112.7,1.2],[113.3,1.4],[113.8,1.7],[114.3,1.85],[114.9,1.95],[115.4,2.05],[115.9,2.55],[116.5,2.6],[117.0,2.7],[117.5,2.85],[118.1,2.95],[118.6,2.65],[119.1,2.4],[119.7,2.6],[120.2,2.35],[120.7,2.2],[121.3,2.05],[121.8,1.95],[122.3,1.85],[122.9,1.2],[123.4,0.7],[123.7,0.9],[124.2,0.85],[124.7,0.75],[125.2,0.8],[125.7,0.95],[126.3,1.15],[126.8,1.35],[127.4,1.6],[127.9,1.7],[128.4,1.4],[129.0,1.5],[129.5,1.25],[130.0,2.25],[130.6,2.25],[131.1,2.3],[131.6,2.35],[132.2,1.8],[132.7,1.6],[133.2,1.65],[133.8,1.45],[134.3,1.3],[134.8,1.25],[135.4,1.15],[135.9,0.9],[136.2,1.05],[136.8,1.2]];

// scale 2: one value per index (original 0..11, predicted 12..32)
const s2LeftOrig = [-0.54,-1.03,-0.28,1.01,1.655,0.60,-1.18,-1.72,-0.73,0.59,0.78,0.85];
const s2LeftPred = [1.47,1.40,1.05,0.95,1.24,0.45,0.37,0.05,-0.27,0.05,0.22,0.70,0.91,0.845,1.78,1.05,1.36,1.53,1.885,1.84,2.04];
const s2RightOrig = [1.22,1.34,1.10,1.025,0.855,0.19,-0.71,-1.245,-1.09,-0.985,-0.965,-0.71];
const s2RightPred = [-0.44,-0.465,-0.26,-0.25,-0.18,-0.19,-0.23,-0.43,-0.38,-0.30,-0.47,-0.42,-0.77,-0.69,-0.73,-0.915,-0.685,-0.72,-0.40,-0.60,-0.365];

// tick values
const ticksOrigX = [0,250,500,750,1000,1250,1500,1750];
const ticksS0X = [0,100,200,300,400];
const ticksS1X = [0,20,40,60,80,100,120,140];
const ticksS2X = [0,5,10,15,20,25,30];
const ticksOrigLeftY = [-1.2,-1.0,-0.8,-0.6,-0.4];
const ticksOrigRightY = [-2.2,-2.0,-1.8,-1.6,-1.4,-1.2];
const ticksS0Y = [-2,-1,0,1,2,3];
const ticksS1LeftY = [-2,-1,0,1,2];
const ticksS1RightY = [-3,-2,-1,0,1,2,3];
const ticksS2LeftY = [-1,0,1,2];
const ticksS2RightY = [-1,-0.5,0,0.5,1];

// ---------------- styling ----------------
const PT = 1.2;                       // pixels per point
const LW = 1.5 * PT;
const DASH = `${3.7 * 1.5 * PT},${1.6 * 1.5 * PT}`;
const FS = 10 * PT, TITLE_FS = 12 * PT;
const C_TRUE = '#1f77b4', C_PRED = '#ff7f0e';
const C_S0 = '#e1582c', C_S1 = '#00875a', C_S2 = '#f5a032';

const svg = d3.select('#fig');
svg.append('rect').attr('width', 1158).attr('height', 1015).attr('fill', '#fff');

const ROWS = [[27.3, 233.3], [297.3, 503.3], [540.7, 747.3], [784, 990]];
const COLS = [
  { x0: 40, wide: 524.3, narrow: 507.5 },
  { x0: 655, wide: 1139.3, narrow: 1122.7 }
];

// tick labels use a plain hyphen for negatives
const fmt1 = d => (+d).toFixed(1);
const fmtInt = d => String(d);
const idx = (arr, start, step) => arr.map((v, i) => [start + i * step, v]);
const spread = (arr, start, end) => arr.map((v, i) => [start + i * (end - start) / (arr.length - 1), v]);

function drawPanel(p) {
  const [y0, y1] = ROWS[p.row];
  const col = COLS[p.col];
  const x0 = col.x0, x1 = p.row < 2 ? col.wide : col.narrow;
  const x = d3.scaleLinear().domain(p.xDomain).range([x0, x1]);
  const y = d3.scaleLinear().domain(p.yDomain).range([y1, y0]);
  const g = svg.append('g');

  // grid
  const gx = g.append('g').attr('transform', `translate(0,${y1})`)
    .call(d3.axisBottom(x).tickValues(p.xTicks).tickSize(-(y1 - y0)).tickFormat(''));
  const gy = g.append('g').attr('transform', `translate(${x0},0)`)
    .call(d3.axisLeft(y).tickValues(p.yTicks).tickSize(-(x1 - x0)).tickFormat(''));
  [gx, gy].forEach(a => {
    a.select('.domain').remove();
    a.selectAll('line').attr('stroke', '#b0b0b0').attr('stroke-width', 0.8 * PT);
  });

  // series
  const line = d3.line().x(d => x(d[0])).y(d => y(d[1]));
  p.series.forEach(s => {
    g.append('path').datum(s.data)
      .attr('d', line)
      .attr('fill', 'none')
      .attr('stroke', s.color)
      .attr('stroke-width', LW)
      .attr('stroke-linejoin', 'round')
      .attr('stroke-linecap', s.dash ? 'butt' : 'square')
      .attr('stroke-dasharray', s.dash ? DASH : null);
  });

  // ticks and labels
  const ax = g.append('g').attr('transform', `translate(0,${y1})`)
    .call(d3.axisBottom(x).tickValues(p.xTicks).tickSizeInner(4.2).tickSizeOuter(0)
      .tickPadding(4.2).tickFormat(p.xLabels ? fmtInt : ''));
  const ay = g.append('g').attr('transform', `translate(${x0},0)`)
    .call(d3.axisLeft(y).tickValues(p.yTicks).tickSizeInner(4.2).tickSizeOuter(0)
      .tickPadding(4.2).tickFormat(fmt1));
  [ax, ay].forEach(a => {
    a.select('.domain').remove();
    a.attr('font-family', null).attr('font-size', null);
    a.selectAll('line').attr('stroke', '#000').attr('stroke-width', 0.8 * PT);
    a.selectAll('text').attr('fill', '#000').style('font-size', FS + 'px');
  });
  ax.selectAll('text').attr('y', 19.5).attr('dy', 0);
  ay.selectAll('text').attr('x', -8.4).attr('dy', '0.33em');

  // frame
  g.append('rect').attr('x', x0).attr('y', y0).attr('width', x1 - x0).attr('height', y1 - y0)
    .attr('fill', 'none').attr('stroke', '#000').attr('stroke-width', 0.8 * PT);

  // title
  g.append('text').attr('x', (x0 + x1) / 2).attr('y', y0 - 7.2)
    .attr('text-anchor', 'middle').style('font-size', TITLE_FS + 'px').attr('fill', '#000')
    .text(p.title);

  drawLegend(g, { x0, x1, y0, y1 }, p.legendLoc, p.series);
}

function drawLegend(g, box, loc, items) {
  const fs = FS, pad = 0.4 * fs, hl = 2 * fs, htp = 0.8 * fs, rowH = 18.3, axPad = 0.5 * fs;
  const lg = g.append('g');
  const frame = lg.append('rect');
  const texts = items.map(it => lg.append('text').style('font-size', fs + 'px').attr('fill', '#000').text(it.label));
  const tw = d3.max(texts, t => t.node().getComputedTextLength());
  const w = 2 * pad + hl + htp + tw;
  const h = 2 * pad + 12.8 + rowH * (items.length - 1);
  let left, top;
  if (loc === 'upper right') { left = box.x1 - axPad - w; top = box.y0 + axPad; }
  else if (loc === 'lower right') { left = box.x1 - axPad - w; top = box.y1 - axPad - h; }
  else { left = (box.x0 + box.x1) / 2 - w / 2; top = box.y1 - axPad - h; }
  frame.attr('x', left).attr('y', top).attr('width', w).attr('height', h)
    .attr('rx', 2.4).attr('ry', 2.4)
    .attr('fill', '#fff').attr('fill-opacity', 0.8)
    .attr('stroke', '#cccccc').attr('stroke-opacity', 0.8).attr('stroke-width', PT);
  items.forEach((it, i) => {
    const cy = top + pad + 6.2 + i * rowH;
    lg.append('line')
      .attr('x1', left + pad + (it.dash ? 0 : 0.9)).attr('x2', left + pad + hl - (it.dash ? 0 : 0.9))
      .attr('y1', cy).attr('y2', cy)
      .attr('stroke', it.color).attr('stroke-width', LW)
      .attr('stroke-linecap', it.dash ? 'butt' : 'square')
      .attr('stroke-dasharray', it.dash ? DASH : null);
    texts[i].attr('x', left + pad + hl + htp).attr('y', cy + 4.3);
  });
}

const panels = [
  { row: 0, col: 0, title: 'original', xDomain: [-83.7, 1757.7], yDomain: [-1.388, -0.251],
    xTicks: ticksOrigX, xLabels: true, yTicks: ticksOrigLeftY, legendLoc: 'upper right',
    series: [
      { label: 'True', color: C_TRUE, data: origLeftTrue },
      { label: 'Pred', color: C_PRED, data: origLeftPred }
    ] },
  { row: 0, col: 1, title: 'original', xDomain: [-83.7, 1757.7], yDomain: [-2.331, -1.044],
    xTicks: ticksOrigX, xLabels: true, yTicks: ticksOrigRightY, legendLoc: 'upper right',
    series: [
      { label: 'True', color: C_TRUE, data: origRightTrue },
      { label: 'Pred', color: C_PRED, data: origRightPred }
    ] },
  { row: 1, col: 0, title: 'scale 0', xDomain: [-22.75, 477.75], yDomain: [-2.275, 3.63],
    xTicks: ticksS0X, xLabels: false, yTicks: ticksS0Y, legendLoc: 'lower center',
    series: [
      { label: 'Original Time Series', color: C_S0, data: idx(s0LeftOrig, 0, 1) },
      { label: 'Predicted Time Series', color: C_S0, dash: true, data: spread(s0LeftPred, s0LeftOrig.length, s0LastIndex) }
    ] },
  { row: 1, col: 1, title: 'scale 0', xDomain: [-22.75, 477.75], yDomain: [-2.927, 3.367],
    xTicks: ticksS0X, xLabels: false, yTicks: ticksS0Y, legendLoc: 'lower center',
    series: [
      { label: 'Original Time Series', color: C_S0, data: idx(s0RightOrig, 0, 1) },
      { label: 'Predicted Time Series', color: C_S0, dash: true, data: spread(s0RightPred, s0RightOrig.length + 1, s0LastIndex) }
    ] },
  { row: 2, col: 0, title: 'scale 1', xDomain: [-6.84, 143.64], yDomain: [-2.99, 2.465],
    xTicks: ticksS1X, xLabels: false, yTicks: ticksS1LeftY, legendLoc: 'upper right',
    series: [
      { label: 'Original Time Series', color: C_S1, data: s1LeftOrig },
      { label: 'Predicted Time Series', color: C_S1, dash: true, data: s1LeftPred }
    ] },
  { row: 2, col: 1, title: 'scale 1', xDomain: [-6.84, 143.64], yDomain: [-3.42, 3.21],
    xTicks: ticksS1X, xLabels: false, yTicks: ticksS1RightY, legendLoc: 'lower right',
    series: [
      { label: 'Original Time Series', color: C_S1, data: s1RightOrig },
      { label: 'Predicted Time Series', color: C_S1, dash: true, data: s1RightPred }
    ] },
  { row: 3, col: 0, title: 'scale 2', xDomain: [-1.6, 33.6], yDomain: [-1.913, 2.264],
    xTicks: ticksS2X, xLabels: true, yTicks: ticksS2LeftY, legendLoc: 'lower right',
    series: [
      { label: 'Original Time Series', color: C_S2, data: idx(s2LeftOrig, 0, 1) },
      { label: 'Predicted Time Series', color: C_S2, dash: true, data: idx(s2LeftPred, s2LeftOrig.length, 1) }
    ] },
  { row: 3, col: 1, title: 'scale 2', xDomain: [-1.6, 33.6], yDomain: [-1.377, 1.465],
    xTicks: ticksS2X, xLabels: true, yTicks: ticksS2RightY, legendLoc: 'upper right',
    series: [
      { label: 'Original Time Series', color: C_S2, data: idx(s2RightOrig, 0, 1) },
      { label: 'Predicted Time Series', color: C_S2, dash: true, data: idx(s2RightPred, s2RightOrig.length, 1) }
    ] }
];

panels.forEach(drawPanel);
</script>
</body>
</html>
